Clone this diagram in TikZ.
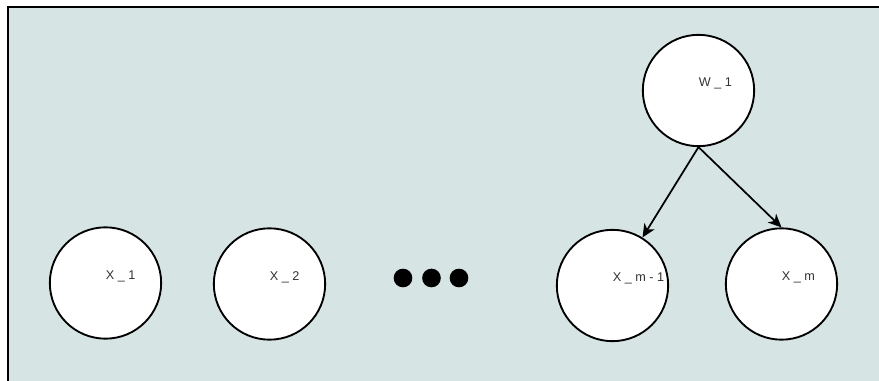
\documentclass[tikz,border=0pt]{standalone}
\usepackage{fontspec}
\setmainfont{Liberation Sans}
\usetikzlibrary{arrows.meta}

\definecolor{panel}{HTML}{D6E4E3}
\definecolor{labelgrey}{HTML}{333333}

\tikzset{
  var/.style={circle, draw, line width=1.4pt, fill=white, minimum size=83.5pt, inner sep=0pt},
  varlabel/.style={inner sep=0pt, label distance=-42.4pt, yshift=5pt, text=labelgrey, font=\fontsize{9.5}{10}\selectfont},
  dot/.style={circle, fill=black, minimum size=14pt, inner sep=0pt},
  edge/.style={line width=1.3pt, -{Stealth[length=10pt, width=9pt, inset=3pt]}},
}

\begin{document}
\begin{tikzpicture}[x={(0.75pt,0)}, y={(0,-0.75pt)}]

\useasboundingbox (0,0) rectangle (879,381);
\draw[fill=panel, line width=1.5pt] (8,7.5) rectangle (900,400);

% Nodes
\node[var, label={[varlabel]0:X \_ 1}] (x1) at (105.5,283) {};
\node[var, label={[varlabel]0:X \_ 2}] (x2) at (269.5,284) {};
\node[dot] (d1) at (403,278) {};
\node[dot] (d2) at (431.5,278) {};
\node[dot] (d3) at (459,278) {};
\node[var, label={[varlabel]0:X \_ m - 1}] (xm1) at (612.5,285.5) {};
\node[var, label={[varlabel]0:X \_ m}] (xm) at (781.5,284) {};
\node[var, label={[varlabel]0:W \_ 1}] (w1) at (698.5,90.5) {};

% Edges
\draw[edge] (w1.south) -- (xm1.58);
\draw[edge] (w1.south) -- (xm.north);

\end{tikzpicture}
\end{document}
